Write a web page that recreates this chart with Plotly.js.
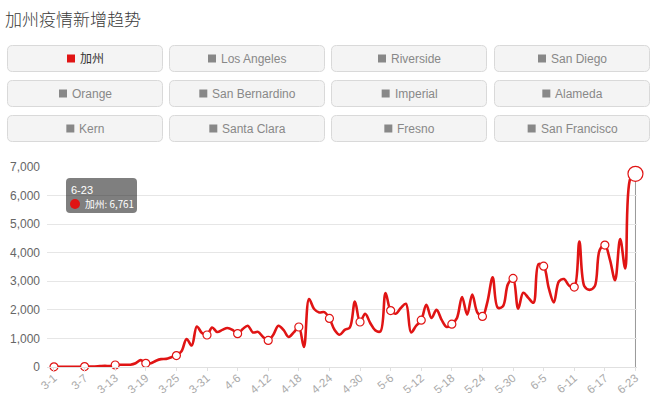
<!DOCTYPE html>
<html>
<head>
<meta charset="utf-8">
<script src="https://cdn.plot.ly/plotly-3.0.1.min.js"></script>
<style>
html,body{margin:0;padding:0;background:#fff;}
#chart{width:659px;height:398px;}
</style>
</head>
<body>
<div id="chart"></div>
<script>
// ---- data ----
const chartTitle = "加州疫情新增趋势";
const seriesName = "加州";
const buttonLabels = ["加州","Los Angeles","Riverside","San Diego","Orange","San Bernardino","Imperial","Alameda","Kern","Santa Clara","Fresno","San Francisco"];
const dates = [
 "3-1","3-2","3-3","3-4","3-5","3-6","3-7","3-8","3-9","3-10","3-11","3-12","3-13","3-14","3-15","3-16","3-17","3-18","3-19","3-20","3-21","3-22","3-23","3-24","3-25","3-26","3-27","3-28","3-29","3-30","3-31",
 "4-1","4-2","4-3","4-4","4-5","4-6","4-7","4-8","4-9","4-10","4-11","4-12","4-13","4-14","4-15","4-16","4-17","4-18","4-19","4-20","4-21","4-22","4-23","4-24","4-25","4-26","4-27","4-28","4-29","4-30",
 "5-1","5-2","5-3","5-4","5-5","5-6","5-7","5-8","5-9","5-10","5-11","5-12","5-13","5-14","5-15","5-16","5-17","5-18","5-19","5-20","5-21","5-22","5-23","5-24","5-25","5-26","5-27","5-28","5-29","5-30","5-31",
 "6-1","6-2","6-3","6-4","6-5","6-6","6-7","6-8","6-9","6-10","6-11","6-12","6-13","6-14","6-15","6-16","6-17","6-18","6-19","6-20","6-21","6-22","6-23"
];
const newCases = [
 5,5,5,10,10,10,15,15,20,30,
 40,30,70,80,80,80,130,240,130,130,
 220,275,285,340,400,550,980,750,1420,1190,
 1120,1385,1225,1300,1365,1300,1165,1330,1445,1210,
 1230,1050,930,1130,1445,1300,1050,1210,1400,700,
 2380,2030,1910,1920,1700,1300,1130,1300,1385,2290,
 1575,1865,1540,1280,1245,2590,1975,1865,2065,2215,
 1210,1445,1640,2180,1713,2000,1650,1400,1500,1713,
 2450,1830,2540,1910,1770,2300,3140,2080,2120,2900,
 3100,2040,2600,2420,2250,3600,3530,2760,2260,3000,
 3076,2844,2797,4390,2820,2700,2820,4100,4266,3750,
 3040,4480,3450,6600,6761
];
const yTicks = [0,1000,2000,3000,4000,5000,6000,7000];

// ---- layout helpers ----
const RED = "#e01414";
const GREY = "#888888";
const L = 47, R = 637, T = 167, B = 367;
const px = x => (x - L) / (R - L);
const py = y => 1 - (y - T) / (B - T);
function roundRect(x0, y0, x1, y1, r){
  const rx = r / (R - L), ry = r / (B - T);
  const a = px(x0), b = px(x1), t = py(y0), u = py(y1);
  return `M${a+rx},${t} L${b-rx},${t} Q${b},${t} ${b},${t-ry} L${b},${u+ry} Q${b},${u} ${b-rx},${u} L${a+rx},${u} Q${a},${u} ${a},${u+ry} L${a},${t-ry} Q${a},${t} ${a+rx},${t} Z`;
}
const ctx = document.createElement("canvas").getContext("2d");
function textW(s, font){ ctx.font = font; return ctx.measureText(s).width; }

const n = newCases.length;
const last = n - 1;
const mSize = newCases.map((v,i) => i === last ? 15 : (i % 6 === 0 ? 8 : 0));
const mLine = newCases.map((v,i) => i === last ? 1.2 : (i % 6 === 0 ? 1.2 : 0));

const trace = {
  type: "scatter",
  mode: "lines+markers",
  x: dates,
  y: newCases,
  name: seriesName,
  line: {color: RED, width: 2.6, shape: "spline", smoothing: 1},
  marker: {size: mSize, color: "#ffffff", opacity: 1, line: {color: RED, width: mLine}},
  cliponaxis: false,
  hoverinfo: "skip"
};

const shapes = [];
const annotations = [];
const colX = [[7,163],[169,325],[331,487],[494,650]];
const rowY = [[45,72],[80,107],[115,142]];
const btnFont = "12px 'Liberation Sans', Arial, 'Noto Sans CJK SC', sans-serif";
buttonLabels.forEach((lab, k) => {
  const c = colX[k % 4], r = rowY[Math.floor(k / 4)];
  shapes.push({type:"path", xref:"paper", yref:"paper", path: roundRect(c[0]+0.5, r[0]+0.5, c[1]-0.5, r[1]-0.5, 5),
    fillcolor:"#f4f4f4", line:{color:"#d9d9d9", width:1}, layer:"above"});
  const tw = textW(lab, btnFont);
  const gw = 8 + 4 + tw;
  const cx = (c[0]+c[1])/2, cy = (r[0]+r[1])/2;
  const sx = cx - gw/2;
  shapes.push({type:"rect", xref:"paper", yref:"paper", x0: px(sx), x1: px(sx+8), y0: py(cy-4), y1: py(cy+4),
    fillcolor: k === 0 ? RED : GREY, line:{width:0}, layer:"above"});
  annotations.push({xref:"paper", yref:"paper", x: px(sx+12), y: py(cy), xanchor:"left", yanchor:"middle",
    showarrow:false, text: lab, borderpad:0,
    font:{family:"Liberation Sans, Arial, Noto Sans CJK SC, sans-serif", size:12, color: k === 0 ? "#333333" : GREY}});
});

// hover pointer line and tooltip
shapes.push({type:"line", xref:"x", yref:"y", x0: dates[last], x1: dates[last], y0: 0, y1: newCases[last],
  line:{color:"#999999", width:1}, layer:"below"});
shapes.push({type:"path", xref:"paper", yref:"paper", path: roundRect(66,178,137,213,4),
  fillcolor:"rgba(0,0,0,0.5)", line:{width:0}, layer:"above"});
shapes.push({type:"circle", xref:"paper", yref:"paper", x0: px(70), x1: px(80), y0: py(199), y1: py(209),
  fillcolor: RED, line:{width:0}, layer:"above"});
annotations.push({xref:"paper", yref:"paper", x: px(70), y: py(190), xanchor:"left", yanchor:"middle",
  showarrow:false, text: dates[last], borderpad:0,
  font:{family:"Liberation Sans, Arial, sans-serif", size:11, color:"#ffffff"}});
annotations.push({xref:"paper", yref:"paper", x: px(84), y: py(204), xanchor:"left", yanchor:"middle",
  showarrow:false, text: `${seriesName}: ${newCases[last].toLocaleString("en-US")}`, borderpad:0,
  font:{family:"Noto Sans CJK SC, Liberation Sans, sans-serif", size:9.8, color:"#ffffff"}});

const layout = {
  width: 659, height: 398,
  paper_bgcolor:"#ffffff", plot_bgcolor:"#ffffff",
  margin:{l:L, r:659-R, t:T, b:398-B, pad:0},
  showlegend:false,
  hovermode:false,
  title:{text: chartTitle, xref:"container", yref:"container", x: 5/659, xanchor:"left", y: 1-20.5/398, yanchor:"middle",
    font:{family:"Noto Sans CJK SC, sans-serif", size:17, color:"#3a3a3a", weight:300}},
  xaxis:{type:"category", range:[-1.37, 114.3], tickmode:"array",
    tickvals: dates.filter((d,i) => i % 6 === 0), ticktext: dates.filter((d,i) => i % 6 === 0),
    tickangle:-40, tickfont:{family:"Liberation Sans, Arial, sans-serif", size:11.5, color:"#aaaaaa"},
    showgrid:false, showline:true, linecolor:"#e0e0e0", linewidth:1,
    ticks:"outside", ticklen:3, tickcolor:"#e0e0e0", ticklabelstandoff:-4, zeroline:false, automargin:false, fixedrange:true},
  yaxis:{range:[0,7000], tickvals:yTicks, tickformat:",d", showgrid:true, gridcolor:"#e6e6e6", gridwidth:1,
    zeroline:false, showline:false, ticks:"", ticklabelstandoff:6,
    tickfont:{family:"Liberation Sans, Arial, sans-serif", size:12, color:"#666666"}, automargin:false, fixedrange:true},
  shapes: shapes,
  annotations: annotations
};

Plotly.newPlot("chart", [trace], layout, {displayModeBar:false, staticPlot:true});
</script>
</body>
</html>
